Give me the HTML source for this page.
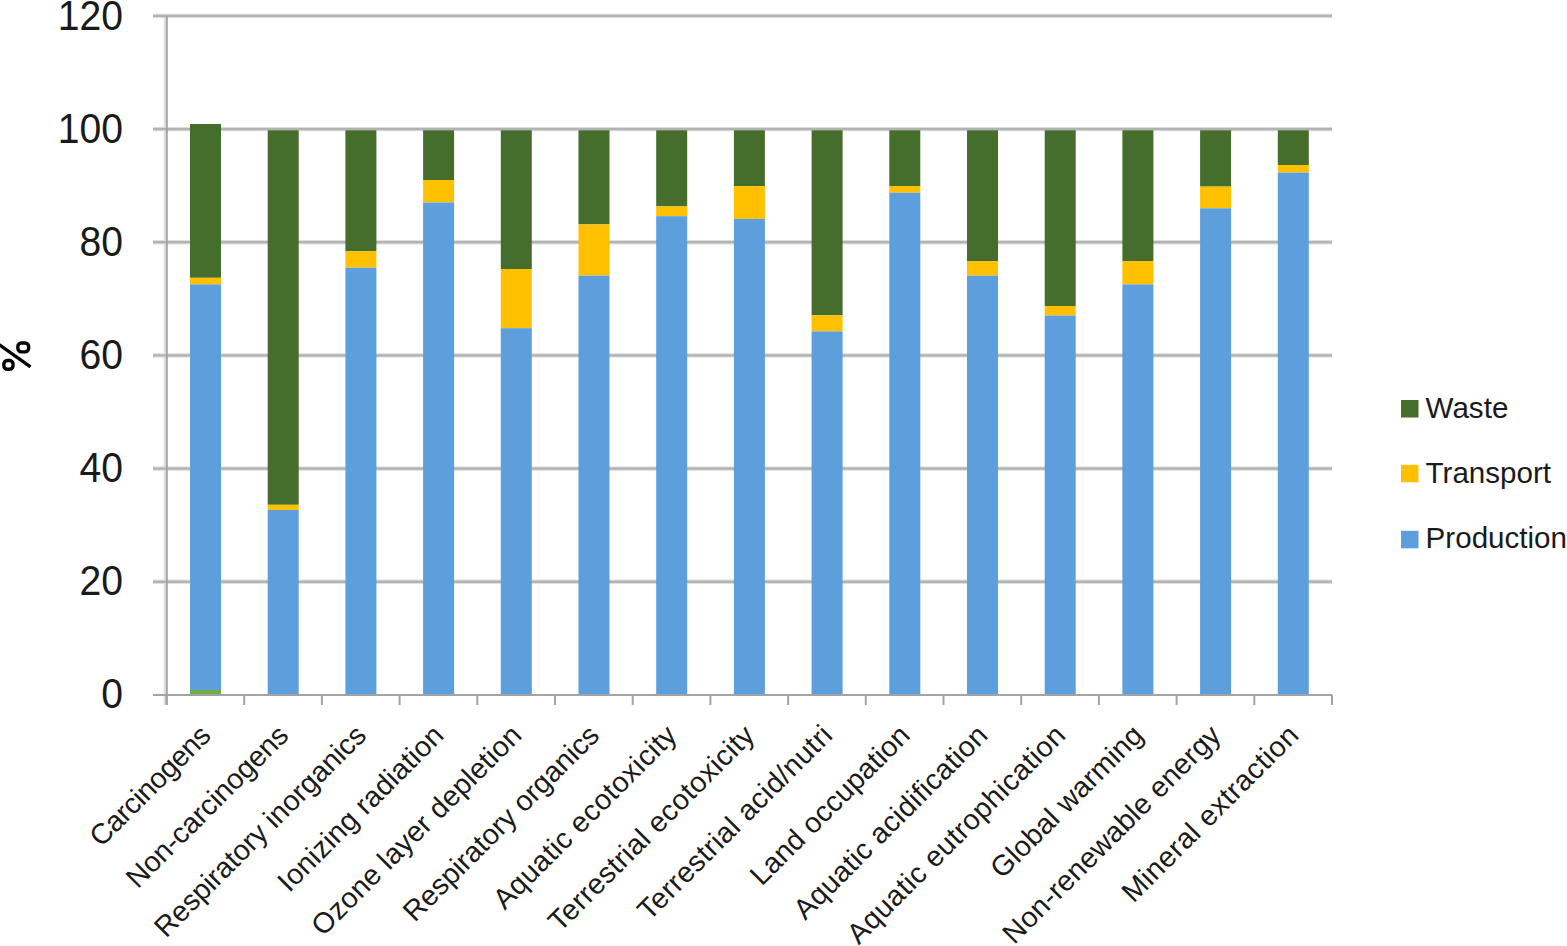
<!DOCTYPE html><html><head><meta charset="utf-8"><style>html,body{margin:0;padding:0;background:#fff;overflow:hidden}svg{display:block}text{font-family:"Liberation Sans",sans-serif;fill:#1a1a1a}</style></head><body>
<svg width="1567" height="946" viewBox="0 0 1567 946">
<rect x="163.6" y="16" width="2.2" height="689" fill="#e2e2e2"/>
<rect x="153" y="13.70" width="1179" height="4.4" fill="#dedede"/>
<rect x="153" y="14.75" width="1179" height="2.3" fill="#b2b2b2"/>
<rect x="153" y="126.87" width="1179" height="4.4" fill="#dedede"/>
<rect x="153" y="127.92" width="1179" height="2.3" fill="#b2b2b2"/>
<rect x="153" y="240.04" width="1179" height="4.4" fill="#dedede"/>
<rect x="153" y="241.09" width="1179" height="2.3" fill="#b2b2b2"/>
<rect x="153" y="353.21" width="1179" height="4.4" fill="#dedede"/>
<rect x="153" y="354.26" width="1179" height="2.3" fill="#b2b2b2"/>
<rect x="153" y="466.38" width="1179" height="4.4" fill="#dedede"/>
<rect x="153" y="467.43" width="1179" height="2.3" fill="#b2b2b2"/>
<rect x="153" y="579.55" width="1179" height="4.4" fill="#dedede"/>
<rect x="153" y="580.60" width="1179" height="2.3" fill="#b2b2b2"/>
<rect x="190.0" y="124" width="31" height="153.8" fill="#456d2c"/>
<rect x="190.0" y="277.8" width="31" height="6.6" fill="#ffc000"/>
<rect x="190.0" y="284.4" width="31" height="410.6" fill="#5d9fdc"/>
<rect x="190.0" y="690" width="31" height="5" fill="#70ad47"/>
<rect x="267.7" y="130.3" width="31" height="374.5" fill="#456d2c"/>
<rect x="267.7" y="504.8" width="31" height="5.2" fill="#ffc000"/>
<rect x="267.7" y="510" width="31" height="185.0" fill="#5d9fdc"/>
<rect x="345.4" y="130.3" width="31" height="121.0" fill="#456d2c"/>
<rect x="345.4" y="251.3" width="31" height="16.4" fill="#ffc000"/>
<rect x="345.4" y="267.7" width="31" height="427.3" fill="#5d9fdc"/>
<rect x="423.1" y="130.3" width="31" height="49.7" fill="#456d2c"/>
<rect x="423.1" y="180" width="31" height="22.5" fill="#ffc000"/>
<rect x="423.1" y="202.5" width="31" height="492.5" fill="#5d9fdc"/>
<rect x="500.8" y="130.3" width="31" height="138.7" fill="#456d2c"/>
<rect x="500.8" y="269" width="31" height="59.2" fill="#ffc000"/>
<rect x="500.8" y="328.2" width="31" height="366.8" fill="#5d9fdc"/>
<rect x="578.5" y="130.3" width="31" height="94.1" fill="#456d2c"/>
<rect x="578.5" y="224.4" width="31" height="51.2" fill="#ffc000"/>
<rect x="578.5" y="275.6" width="31" height="419.4" fill="#5d9fdc"/>
<rect x="656.2" y="130.3" width="31" height="76.1" fill="#456d2c"/>
<rect x="656.2" y="206.4" width="31" height="9.8" fill="#ffc000"/>
<rect x="656.2" y="216.2" width="31" height="478.8" fill="#5d9fdc"/>
<rect x="733.9" y="130.3" width="31" height="55.8" fill="#456d2c"/>
<rect x="733.9" y="186.1" width="31" height="32.8" fill="#ffc000"/>
<rect x="733.9" y="218.9" width="31" height="476.1" fill="#5d9fdc"/>
<rect x="811.6" y="130.3" width="31" height="185.0" fill="#456d2c"/>
<rect x="811.6" y="315.3" width="31" height="16.1" fill="#ffc000"/>
<rect x="811.6" y="331.4" width="31" height="363.6" fill="#5d9fdc"/>
<rect x="889.3" y="130.3" width="31" height="55.7" fill="#456d2c"/>
<rect x="889.3" y="186" width="31" height="6.7" fill="#ffc000"/>
<rect x="889.3" y="192.7" width="31" height="502.3" fill="#5d9fdc"/>
<rect x="967.0" y="130.3" width="31" height="130.8" fill="#456d2c"/>
<rect x="967.0" y="261.1" width="31" height="14.6" fill="#ffc000"/>
<rect x="967.0" y="275.7" width="31" height="419.3" fill="#5d9fdc"/>
<rect x="1044.7" y="130.3" width="31" height="175.7" fill="#456d2c"/>
<rect x="1044.7" y="306" width="31" height="9.5" fill="#ffc000"/>
<rect x="1044.7" y="315.5" width="31" height="379.5" fill="#5d9fdc"/>
<rect x="1122.4" y="130.3" width="31" height="130.8" fill="#456d2c"/>
<rect x="1122.4" y="261.1" width="31" height="23.3" fill="#ffc000"/>
<rect x="1122.4" y="284.4" width="31" height="410.6" fill="#5d9fdc"/>
<rect x="1200.1" y="130.3" width="31" height="56.3" fill="#456d2c"/>
<rect x="1200.1" y="186.6" width="31" height="21.7" fill="#ffc000"/>
<rect x="1200.1" y="208.3" width="31" height="486.7" fill="#5d9fdc"/>
<rect x="1277.8" y="130.3" width="31" height="34.7" fill="#456d2c"/>
<rect x="1277.8" y="165" width="31" height="7.6" fill="#ffc000"/>
<rect x="1277.8" y="172.6" width="31" height="522.4" fill="#5d9fdc"/>
<rect x="165.8" y="16" width="2" height="689" fill="#a3a3a3"/>
<rect x="153" y="694" width="1179" height="2" fill="#a3a3a3"/>
<rect x="165.5" y="695" width="2" height="10" fill="#a3a3a3"/>
<rect x="243.2" y="695" width="2" height="10" fill="#a3a3a3"/>
<rect x="320.9" y="695" width="2" height="10" fill="#a3a3a3"/>
<rect x="398.6" y="695" width="2" height="10" fill="#a3a3a3"/>
<rect x="476.3" y="695" width="2" height="10" fill="#a3a3a3"/>
<rect x="554.0" y="695" width="2" height="10" fill="#a3a3a3"/>
<rect x="631.7" y="695" width="2" height="10" fill="#a3a3a3"/>
<rect x="709.4" y="695" width="2" height="10" fill="#a3a3a3"/>
<rect x="787.1" y="695" width="2" height="10" fill="#a3a3a3"/>
<rect x="864.8" y="695" width="2" height="10" fill="#a3a3a3"/>
<rect x="942.5" y="695" width="2" height="10" fill="#a3a3a3"/>
<rect x="1020.2" y="695" width="2" height="10" fill="#a3a3a3"/>
<rect x="1097.9" y="695" width="2" height="10" fill="#a3a3a3"/>
<rect x="1175.6" y="695" width="2" height="10" fill="#a3a3a3"/>
<rect x="1253.3" y="695" width="2" height="10" fill="#a3a3a3"/>
<rect x="1331.0" y="695" width="2" height="10" fill="#a3a3a3"/>
<text transform="translate(123.1,29.5) scale(0.91,1)" font-size="43" text-anchor="end">120</text>
<text transform="translate(123.1,142.7) scale(0.91,1)" font-size="43" text-anchor="end">100</text>
<text transform="translate(123.1,255.8) scale(0.91,1)" font-size="43" text-anchor="end">80</text>
<text transform="translate(123.1,369.0) scale(0.91,1)" font-size="43" text-anchor="end">60</text>
<text transform="translate(123.1,482.1) scale(0.91,1)" font-size="43" text-anchor="end">40</text>
<text transform="translate(123.1,595.2) scale(0.91,1)" font-size="43" text-anchor="end">20</text>
<text transform="translate(123.1,708.4) scale(0.91,1)" font-size="43" text-anchor="end">0</text>
<g fill="none" stroke="#000" stroke-width="3.4"><rect x="17.85" y="343.05" width="10.8" height="8.8" rx="3.5"/><rect x="3.85" y="360.45" width="9.2" height="8.8" rx="3.5"/><line x1="-1" y1="344.5" x2="30.5" y2="366.8" stroke-width="3.4"/></g>
<text transform="translate(212.3,737) rotate(-45)" font-size="28.7" text-anchor="end" textLength="157.1" lengthAdjust="spacing">Carcinogens</text>
<text transform="translate(290.1,737) rotate(-45)" font-size="28.7" text-anchor="end" textLength="215.6" lengthAdjust="spacing">Non-carcinogens</text>
<text transform="translate(367.8,737) rotate(-45)" font-size="28.7" text-anchor="end" textLength="285.4" lengthAdjust="spacing">Respiratory inorganics</text>
<text transform="translate(445.4,737) rotate(-45)" font-size="28.7" text-anchor="end" textLength="220.8" lengthAdjust="spacing">Ionizing radiation</text>
<text transform="translate(523.2,737) rotate(-45)" font-size="28.7" text-anchor="end" textLength="283.1" lengthAdjust="spacing">Ozone layer depletion</text>
<text transform="translate(600.9,737) rotate(-45)" font-size="28.7" text-anchor="end" textLength="263.1" lengthAdjust="spacing">Respiratory organics</text>
<text transform="translate(678.5,737) rotate(-45)" font-size="28.7" text-anchor="end" textLength="245.7" lengthAdjust="spacing">Aquatic ecotoxicity</text>
<text transform="translate(756.2,737) rotate(-45)" font-size="28.7" text-anchor="end" textLength="277.3" lengthAdjust="spacing">Terrestrial ecotoxicity</text>
<text transform="translate(834.0,737) rotate(-45)" font-size="28.7" text-anchor="end" textLength="261.2" lengthAdjust="spacing">Terrestrial acid/nutri</text>
<text transform="translate(911.6,737) rotate(-45)" font-size="28.7" text-anchor="end" textLength="211.9" lengthAdjust="spacing">Land occupation</text>
<text transform="translate(989.4,737) rotate(-45)" font-size="28.7" text-anchor="end" textLength="260.3" lengthAdjust="spacing">Aquatic acidification</text>
<text transform="translate(1067.1,737) rotate(-45)" font-size="28.7" text-anchor="end" textLength="294.8" lengthAdjust="spacing">Aquatic eutrophication</text>
<text transform="translate(1144.8,737) rotate(-45)" font-size="28.7" text-anchor="end" textLength="202.0" lengthAdjust="spacing">Global warming</text>
<text transform="translate(1222.5,737) rotate(-45)" font-size="28.7" text-anchor="end" textLength="294.4" lengthAdjust="spacing">Non-renewable energy</text>
<text transform="translate(1300.2,737) rotate(-45)" font-size="28.7" text-anchor="end" textLength="235.9" lengthAdjust="spacing">Mineral extraction</text>
<rect x="1401" y="400" width="17.5" height="17.5" fill="#456d2c"/>
<text transform="translate(1425.6,417.8) scale(1,0.97)" font-size="29.6">Waste</text>
<rect x="1401" y="464.8" width="17.5" height="17.5" fill="#ffc000"/>
<text transform="translate(1425.6,483.3) scale(1,0.97)" font-size="29.6">Transport</text>
<rect x="1401" y="530.8" width="17.5" height="17.5" fill="#5d9fdc"/>
<text transform="translate(1425.6,548) scale(1,0.97)" font-size="29.6">Production</text>
</svg></body></html>
